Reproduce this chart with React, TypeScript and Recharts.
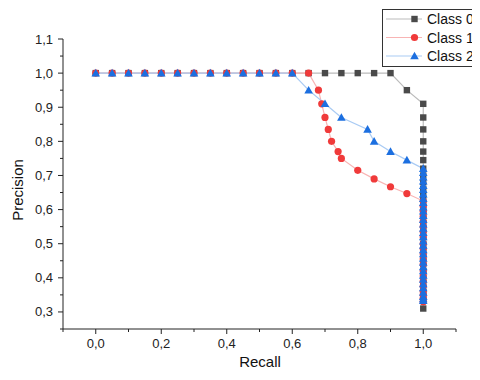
import React from 'react';
import { LineChart, Line, XAxis, YAxis } from 'recharts';

// recall / precision per class
const recall0 = [0, 0.05, 0.1, 0.15, 0.2, 0.25, 0.3, 0.35, 0.4, 0.45, 0.5, 0.55, 0.6, 0.65, 0.7, 0.75, 0.8, 0.85, 0.9, 0.95,
  1, 1, 1, 1, 1, 1, 1, 1, 1, 1, 1, 1, 1, 1, 1, 1, 1, 1, 1, 1, 1, 1, 1, 1, 1, 1, 1];
const precision0 = [1, 1, 1, 1, 1, 1, 1, 1, 1, 1, 1, 1, 1, 1, 1, 1, 1, 1, 1, 0.95,
  0.91, 0.87, 0.835, 0.8, 0.77, 0.745, 0.72, 0.7, 0.68, 0.66, 0.64, 0.62, 0.6, 0.58, 0.56, 0.54, 0.52, 0.5, 0.48, 0.46, 0.44, 0.42, 0.4, 0.38, 0.36, 0.34, 0.31];

const recall1 = [0, 0.05, 0.1, 0.15, 0.2, 0.25, 0.3, 0.35, 0.4, 0.45, 0.5, 0.55, 0.6, 0.65, 0.68, 0.69, 0.7, 0.71, 0.72, 0.74, 0.75, 0.8, 0.85, 0.9, 0.95,
  1, 1, 1, 1, 1, 1, 1, 1, 1, 1, 1, 1, 1, 1, 1, 1, 1, 1, 1, 1, 1, 1];
const precision1 = [1, 1, 1, 1, 1, 1, 1, 1, 1, 1, 1, 1, 1, 1, 0.95, 0.91, 0.87, 0.835, 0.8, 0.77, 0.75, 0.715, 0.69, 0.667, 0.647,
  0.625, 0.61, 0.595, 0.58, 0.565, 0.55, 0.535, 0.52, 0.5, 0.485, 0.47, 0.455, 0.44, 0.42, 0.405, 0.39, 0.375, 0.36, 0.35, 0.34, 0.33];

const recall2 = [0, 0.05, 0.1, 0.15, 0.2, 0.25, 0.3, 0.35, 0.4, 0.45, 0.5, 0.55, 0.6, 0.65, 0.7, 0.75, 0.83, 0.85, 0.9, 0.95,
  1, 1, 1, 1, 1, 1, 1, 1, 1, 1, 1, 1, 1, 1, 1, 1, 1, 1, 1, 1, 1, 1, 1, 1, 1, 1, 1, 1, 1, 1, 1, 1, 1];
const precision2 = [1, 1, 1, 1, 1, 1, 1, 1, 1, 1, 1, 1, 1, 0.95, 0.91, 0.87, 0.835, 0.8, 0.77, 0.745,
  0.72, 0.708, 0.695, 0.683, 0.67, 0.658, 0.645, 0.632, 0.62, 0.607, 0.595, 0.582, 0.57, 0.557, 0.545, 0.532, 0.52, 0.507,
  0.495, 0.482, 0.47, 0.457, 0.445, 0.432, 0.42, 0.407, 0.395, 0.382, 0.37, 0.357, 0.345, 0.338, 0.333];

const seriesNames = ['Class 0', 'Class 1', 'Class 2'];

const xTicks = [-0.1, 0, 0.1, 0.2, 0.3, 0.4, 0.5, 0.6, 0.7, 0.8, 0.9, 1, 1.1];
const xLabels = [0, 0.2, 0.4, 0.6, 0.8, 1];
const yTicks = [0.25, 0.3, 0.35, 0.4, 0.45, 0.5, 0.55, 0.6, 0.65, 0.7, 0.75, 0.8, 0.85, 0.9, 0.95, 1, 1.05, 1.1];
const yLabels = [0.3, 0.4, 0.5, 0.6, 0.7, 0.8, 0.9, 1, 1.1];

const toRows = (r: number[], p: number[]) => r.map((x, i) => ({ r: x, p: p[i] }));
const data0 = toRows(recall0, precision0);
const data1 = toRows(recall1, precision1);
const data2 = toRows(recall2, precision2);

const fmt = (v: number) => v.toFixed(1).replace('.', ',');
const FONT = 'Liberation Sans, Arial, sans-serif';

const Square = (props: any) => {
  const { cx, cy, index } = props;
  return <rect key={'s' + index} x={cx - 3.2} y={cy - 3.2} width={6.4} height={6.4} fill="#4a4a4a" />;
};
const Circle = (props: any) => {
  const { cx, cy, index } = props;
  return <circle key={'c' + index} cx={cx} cy={cy} r={3.6} fill="#f03a3a" />;
};
const Tri = (props: any) => {
  const { cx, cy, index } = props;
  return <path key={'t' + index} d={`M${cx},${cy - 4.3}L${cx + 4.3},${cy + 3.3}L${cx - 4.3},${cy + 3.3}Z`} fill="#1c6fe0" />;
};

const XTick = (props: any) => {
  const { x, y, payload } = props;
  const major = xLabels.some((v) => Math.abs(v - payload.value) < 1e-6);
  return (
    <g>
      <line x1={x} y1={y} x2={x} y2={y + (major ? 5 : 3)} stroke="#222" />
      {major && (
        <text x={x} y={y + 19} textAnchor="middle" fontSize={13} fontFamily={FONT} fill="#222">
          {fmt(payload.value)}
        </text>
      )}
    </g>
  );
};

const YTick = (props: any) => {
  const { x, y, payload } = props;
  const major = yLabels.some((v) => Math.abs(v - payload.value) < 1e-6);
  return (
    <g>
      <line x1={x} y1={y} x2={x - (major ? 5 : 3)} y2={y} stroke="#222" />
      {major && (
        <text x={x - 10} y={y + 4.5} textAnchor="end" fontSize={13} fontFamily={FONT} fill="#222">
          {fmt(payload.value)}
        </text>
      )}
    </g>
  );
};

const legendRows = [
  { line: '#bbbbbb', mark: <rect x={25.3} y={-3.2} width={6.4} height={6.4} fill="#4a4a4a" /> },
  { line: '#f8b4b4', mark: <circle cx={28.5} cy={0} r={3.6} fill="#f03a3a" /> },
  { line: '#a9cbf4', mark: <path d="M28.5,-4.3L32.8,3.3L24.2,3.3Z" fill="#1c6fe0" /> },
];

export default function App() {
  return (
    <div style={{ width: 472, height: 372, overflow: 'hidden', position: 'relative' }}>
      <LineChart width={472} height={372} margin={{ top: 31, right: 24, left: 0, bottom: 0 }}>
        <XAxis
          type="number"
          dataKey="r"
          domain={[-0.1, 1.1]}
          ticks={xTicks}
          interval={0}
          tickSize={0}
          tickMargin={0}
          tick={<XTick />}
          stroke="#222"
          height={51}
          allowDataOverflow
        />
        <YAxis
          type="number"
          dataKey="p"
          domain={[0.25, 1.1]}
          ticks={yTicks}
          interval={0}
          tickSize={0}
          tickMargin={0}
          tick={<YTick />}
          stroke="#222"
          width={55}
          allowDataOverflow
        />
        <Line data={data0} dataKey="p" name={seriesNames[0]} stroke="#bbbbbb" strokeWidth={1.2} dot={Square} activeDot={false} isAnimationActive={false} />
        <Line data={data1} dataKey="p" name={seriesNames[1]} stroke="#f8b4b4" strokeWidth={1.2} dot={Circle} activeDot={false} isAnimationActive={false} />
        <Line data={data2} dataKey="p" name={seriesNames[2]} stroke="#a9cbf4" strokeWidth={1.2} dot={Tri} activeDot={false} isAnimationActive={false} />
        <g transform="translate(374,1)">
          <rect x={0.5} y={0.5} width={97} height={57} fill="#fff" stroke="#333" />
          {legendRows.map((row, i) => (
            <g key={i} transform={`translate(4,${10 + i * 18.5})`}>
              <line x1={0} y1={0} x2={36} y2={0} stroke={row.line} strokeWidth={1.2} />
              {row.mark}
              <text x={41} y={5} fontSize={14} fontFamily={FONT} fill="#111">
                {seriesNames[i]}
              </text>
            </g>
          ))}
        </g>
        <text x={15} y={182} transform="rotate(-90 15 182)" textAnchor="middle" fontSize={15} fontFamily={FONT} fill="#111">
          Precision
        </text>
        <text x={252} y={359} textAnchor="middle" fontSize={15} fontFamily={FONT} fill="#111">
          Recall
        </text>
      </LineChart>
    </div>
  );
}
